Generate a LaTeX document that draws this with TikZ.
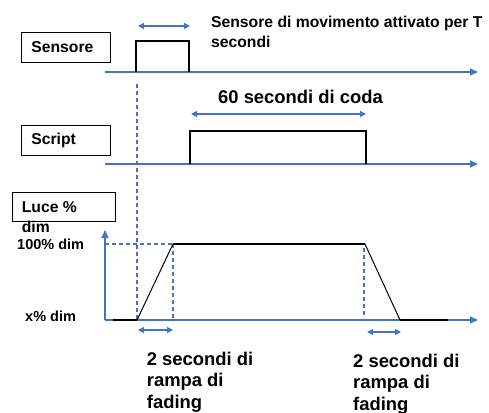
\documentclass[tikz,border=0pt]{standalone}
\usepackage{fontspec}
\setmainfont{Liberation Sans}[BoldFont={Liberation Sans Bold}]
\newfontfamily\boldsans{Liberation Sans Bold}
\usetikzlibrary{arrows.meta}
\definecolor{axisblue}{RGB}{68,114,196}

\begin{document}
\begin{tikzpicture}[
		x=1pt, y=-1pt,
		axis/.style={draw=axisblue, line width=1.2pt, -{Triangle[length=8pt,width=7pt]}},
		span/.style={draw=axisblue, line width=1.2pt, {Triangle[length=6pt,width=6pt]}-{Triangle[length=6pt,width=6pt]}},
		guide/.style={draw=axisblue, line width=1.3pt, dash pattern=on 4pt off 3pt},
		signal/.style={draw=black, line width=1.8pt},
		ramp/.style={draw=black, line width=1pt},
		namebox/.style={draw=black, line width=0.8pt, minimum height=30pt, anchor=north west,
				text width=69pt, inner xsep=10pt, align=left, font=\boldsans\fontsize{15.7}{20}\selectfont},
		note/.style={inner sep=0pt, anchor=north west, align=left, font=\boldsans\fontsize{15.7}{20}\selectfont},
		level/.style={inner sep=0pt, anchor=base west, font=\boldsans\fontsize{14.5}{18}\selectfont},
		caption/.style={inner sep=0pt, anchor=north west, align=left, font=\boldsans\fontsize{18.4}{21.5}\selectfont}
	]
	\useasboundingbox (0,0) rectangle (489,412);

	% sensore
	\node[namebox] (sensore) at (21,32) {Sensore};
	\node[note] (trigger) at (211,15.6) {Sensore di movimento attivato per T\\secondi};
	\coordinate (s0) at (105,72);
	\coordinate (s1) at (478,72);
	\coordinate (sOn) at (136,72);
	\coordinate (sOff) at (189,72);
	\draw[axis] (s0) -- (s1);
	\draw[signal] (sOn) -- ++(0,-31) -| (sOff);
	\draw[span] (138,26) -- (190,26);

	% script
	\node[namebox] (script) at (21,125) {Script};
	\node[caption, anchor=base west] (coda) at (218,103) {60 secondi di coda};
	\coordinate (c0) at (105,164);
	\coordinate (c1) at (478,164);
	\coordinate (cOn) at (190,164);
	\coordinate (cOff) at (366,164);
	\draw[axis] (c0) -- (c1);
	\draw[signal] (cOn) -- ++(0,-33) -| (cOff);
	\draw[span] (191,114) -- (366,114);

	% luce
	\node[draw=black, line width=0.8pt, minimum width=103pt, minimum height=29pt, anchor=north west] (lucebox) at (12,192) {};
	\node[note] (luce) at (21.7,201.3) {Luce \%\\dim};
	\node[level] (full) at (17,249) {100\% dim};
	\node[level] (low) at (25,321) {x\% dim};
	\coordinate (origin) at (105,320);
	\coordinate (yTop) at (105,230);
	\coordinate (xEnd) at (478,320);
	\coordinate (l0) at (113,320);
	\coordinate (l1) at (137,320);
	\coordinate (l2) at (173,244);
	\coordinate (l3) at (365,244);
	\coordinate (l4) at (400,320);
	\coordinate (l5) at (448,320);
	\draw[axis] (origin) -- (yTop);
	\draw[axis] (origin) -- (xEnd);
	\draw[guide] (137,84) -- (137,320);
	\draw[guide] (origin |- l2) -- (l2);
	\draw[guide] (l2) -- (l2 |- origin);
	\draw[guide] (364,248) -- (364,318);
	\draw[signal] (l0) -- (l1);
	\draw[ramp] (l1) -- (l2);
	\draw[signal] (l2) -- (l3);
	\draw[ramp] (l3) -- (l4);
	\draw[signal] (l4) -- (l5);
	\draw[span] (138,330) -- (173,330);
	\draw[span] (367,332) -- (401,332);
	\node[caption] (rampUp) at (146.7,351.6) {2 secondi di\\rampa di\\fading};
	\node[caption] (rampDown) at (353,353.6) {2 secondi di\\rampa di\\fading};
\end{tikzpicture}
\end{document}
